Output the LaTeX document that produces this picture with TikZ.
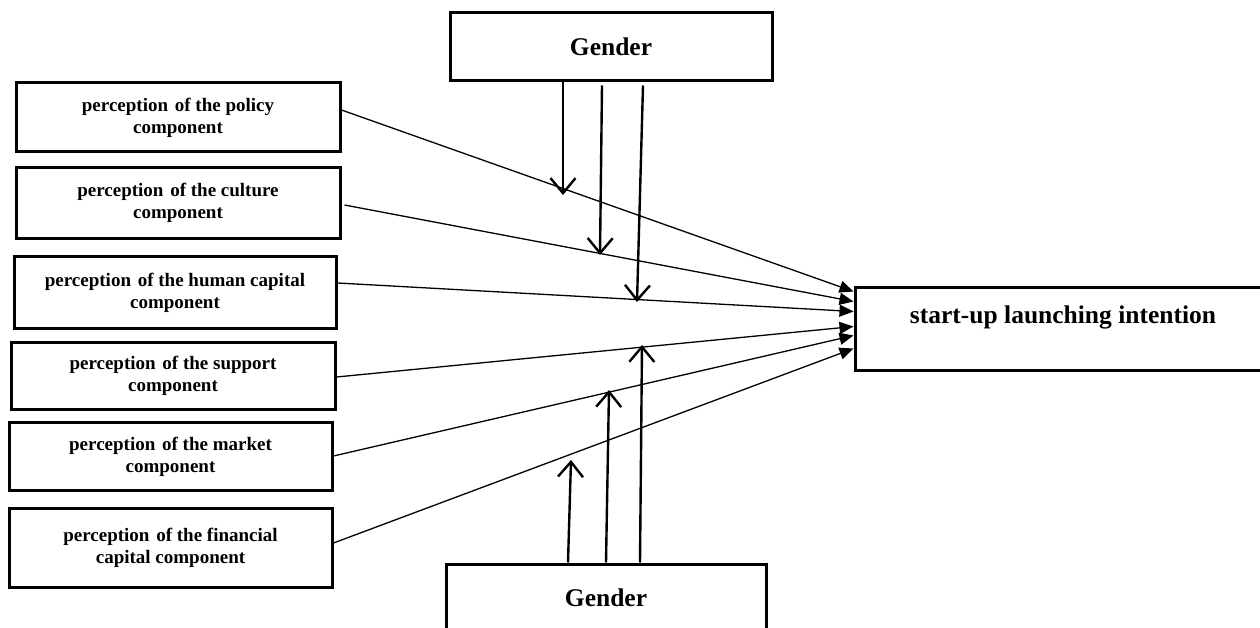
\documentclass[tikz,border=0pt]{standalone}
\usepackage{fontspec}
\setmainfont{Liberation Serif}
\usetikzlibrary{arrows.meta,calc}
\begin{document}
\begin{tikzpicture}[x=1pt,y=-1pt,
  box/.style={draw,line width=3pt,rectangle,inner sep=0pt,align=center,
    font=\bfseries\fontsize{19}{22}\selectfont},
  bigbox/.style={draw,line width=3pt,rectangle,inner sep=0pt,align=center,
    font=\bfseries\fontsize{25.5}{28}\selectfont},
  conn/.style={line width=1.3pt,-{Triangle[length=14pt,width=12pt]}},
  mod/.style={line width=2.4pt,-{Straight Barb[length=15pt,width=25pt,line width=2.4pt]}}
]
\useasboundingbox (0,0) rectangle (1260,628);
\fill[white] (0,0) rectangle (1260,628);
\begin{scope}
\clip (0,0) rectangle (1260,628);
\node[box,minimum width=324pt,minimum height=69pt] (b1) at (178,117.5) {perception\hspace{2pt} of the policy\\component};
\node[box,minimum width=324pt,minimum height=71pt] (b2) at (178,203) {perception\hspace{2pt} of the culture\\component};
\node[box,minimum width=322pt,minimum height=72pt] (b3) at (175,292.5) {perception\hspace{2pt} of the human capital\\component};
\node[box,minimum width=324pt,minimum height=67pt] (b4) at (173,376) {perception\hspace{2pt} of the support\\component};
\node[box,minimum width=323pt,minimum height=68pt] (b5) at (170.5,456.5) {perception\hspace{2pt} of the market\\component};
\node[box,minimum width=323pt,minimum height=79pt] (b6) at (170.5,548) {perception\hspace{2pt} of the financial\\capital component};
\node[bigbox,minimum width=322pt,minimum height=68pt] (g1) at (611,47) {Gender};
\node[bigbox,minimum width=320pt,minimum height=67pt] (g2) at (606,597.5) {Gender};
\node[bigbox,minimum width=416pt,minimum height=83pt,text height=18pt,text depth=29pt] (sli) at (1063,328.5) {start-up launching intention};
\end{scope}

\coordinate (e1) at ($(sli.north west)+(0,6)$);
\coordinate (e2) at ($(sli.north west)+(0,16)$);
\coordinate (e3) at ($(sli.north west)+(0,26)$);
\coordinate (e4) at ($(sli.north west)+(0,41)$);
\coordinate (e5) at ($(sli.north west)+(0,50)$);
\coordinate (e6) at ($(sli.north west)+(0,63)$);

\draw[conn] ([yshift=7.5pt]b1.east) -- (e1);
\draw[conn] ([xshift=3pt,yshift=-2pt]b2.east) -- (e2);
\draw[conn] ([yshift=9.5pt]b3.east) -- (e3);
\draw[conn] ([yshift=-1pt]b4.east) -- (e4);
\draw[conn] ([yshift=0.5pt]b5.east) -- (e5);
\draw[conn] ([yshift=5pt]b6.east) -- (e6);

\coordinate (t1) at (563,195);
\coordinate (t2) at (600,255);
\coordinate (t3) at (637,302);
\coordinate (u1) at (571,460);
\coordinate (u2) at (609,390);
\coordinate (u3) at (642,345);

\draw[mod] ([xshift=-48pt]g1.south) -- (t1);
\draw[mod] ([xshift=-9pt,yshift=-3pt]g1.south) -- (t2);
\draw[mod] ([xshift=32pt,yshift=-3pt]g1.south) -- (t3);
\draw[mod] ([xshift=-38pt]g2.north) -- (u1);
\draw[mod] ([xshift=0pt]g2.north) -- (u2);
\draw[mod] ([xshift=34pt]g2.north) -- (u3);
\end{tikzpicture}
\end{document}
